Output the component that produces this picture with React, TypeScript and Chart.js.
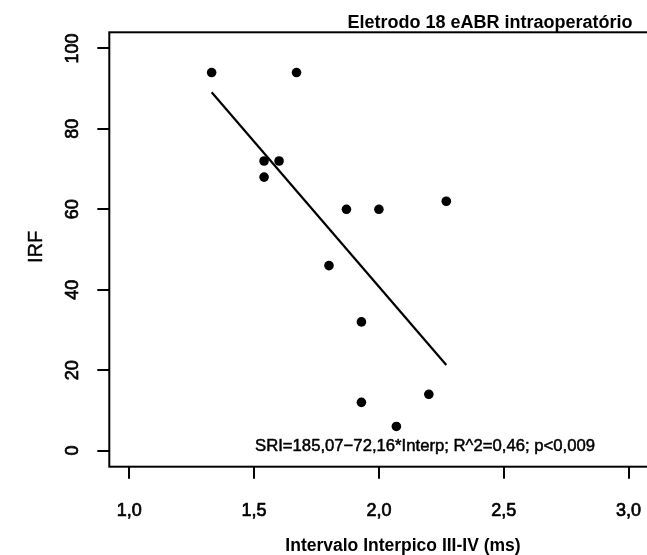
import React, { useEffect, useRef } from "react";
import { Chart, registerables } from "chart.js";

Chart.register(...registerables);

// Data
const interpico: number[] = [1.33, 1.67, 1.54, 1.6, 1.54, 1.87, 2.0, 2.27, 1.8, 1.93, 1.93, 2.2, 2.07];
const irf: number[] = [94, 94, 72, 72, 68, 60, 60, 62, 46, 32, 12, 14, 6];

// Regression line end points (as drawn)
const fitX: number[] = [1.33, 2.27];
const fitY: number[] = [89.1, 21.3];

// Axes
const xTicks: number[] = [1.0, 1.5, 2.0, 2.5, 3.0];
const xTickLabels: string[] = ["1,0", "1,5", "2,0", "2,5", "3,0"];
const yTicks: number[] = [0, 20, 40, 60, 80, 100];
const yTickLabels: string[] = ["0", "20", "40", "60", "80", "100"];

const titleText = "Eletrodo 18 eABR intraoperatório";
const xTitle = "Intervalo Interpico III-IV (ms)";
const yTitle = "IRF";
const noteText = "SRI=185,07\u221272,16*Interp; R^2=0,46; p<0,009";

const FONT = '"Liberation Sans", Arial, Helvetica, sans-serif';

export default function App() {
  const ref = useRef<HTMLCanvasElement | null>(null);

  useEffect(() => {
    if (!ref.current) return;
    const heavyText = (ctx: any, s: string, x: number, y: number, w: number) => {
      ctx.lineWidth = w;
      ctx.strokeText(s, x, y);
      ctx.fillText(s, x, y);
    };
    const textPlugin = {
      id: "rtext",
      afterDraw(chart: any) {
        const { ctx, chartArea, scales } = chart;
        const xs = scales.x;
        const ys = scales.y;
        ctx.save();
        // box
        ctx.strokeStyle = "#000";
        ctx.lineWidth = 2;
        ctx.strokeRect(chartArea.left, chartArea.top, chartArea.right - chartArea.left, chartArea.bottom - chartArea.top);
        ctx.fillStyle = "#000";
        ctx.lineJoin = "round";
        // y tick labels (rotated)
        ctx.font = `18px ${FONT}`;
        ctx.textAlign = "center";
        ctx.textBaseline = "middle";
        yTicks.forEach((v, i) => {
          const py = ys.getPixelForValue(v);
          ctx.save();
          ctx.translate(73, py);
          ctx.rotate(-Math.PI / 2);
          heavyText(ctx, yTickLabels[i], 0, 0, 0.7);
          ctx.restore();
        });
        // x tick labels
        xTicks.forEach((v, i) => {
          const px = xs.getPixelForValue(v);
          heavyText(ctx, xTickLabels[i], px, 511, 0.7);
        });
        // y title
        ctx.save();
        ctx.font = `20px ${FONT}`;
        ctx.translate(36, 247);
        ctx.rotate(-Math.PI / 2);
        heavyText(ctx, yTitle, 0, 0, 0.4);
        ctx.restore();
        // x title
        ctx.font = `bold 17.5px ${FONT}`;
        ctx.fillText(xTitle, 403, 546);
        // main title
        ctx.font = `bold 18px ${FONT}`;
        ctx.textBaseline = "alphabetic";
        ctx.fillText(titleText, 490, 28);
        // annotation
        ctx.font = `16.7px ${FONT}`;
        ctx.textBaseline = "middle";
        heavyText(ctx, noteText, 425, 446, 0.5);
        ctx.restore();
      },
    };

    const chart = new Chart(ref.current, {
      type: "scatter",
      data: {
        datasets: [
          {
            label: "IRF",
            data: interpico.map((x, i) => ({ x, y: irf[i] })),
            pointRadius: 4.8,
            pointHoverRadius: 4.8,
            backgroundColor: "#000",
            borderWidth: 0,
            showLine: false,
          },
          {
            label: "fit",
            data: fitX.map((x, i) => ({ x, y: fitY[i] })),
            showLine: true,
            pointRadius: 0,
            borderColor: "#000",
            borderWidth: 2.2,
            fill: false,
          },
        ],
      },
      options: {
        responsive: false,
        animation: false,
        events: [],
        layout: { padding: { top: 32.3, right: 11.5, left: 0, bottom: 0 } },
        plugins: { legend: { display: false }, tooltip: { enabled: false }, title: { display: false } },
        scales: {
          x: {
            type: "linear",
            min: 0.92,
            max: 3.08,
            afterBuildTicks: (scale: any) => {
              scale.ticks = xTicks.map((v) => ({ value: v }));
            },
            afterFit: (scale: any) => {
              scale.height = 88.3;
            },
            ticks: { display: false },
            border: { display: false },
            grid: {
              drawOnChartArea: false,
              drawTicks: true,
              tickLength: 12,
              color: "#000",
              lineWidth: 2,
              tickWidth: 2,
            },
          },
          y: {
            type: "linear",
            min: -4,
            max: 104,
            afterBuildTicks: (scale: any) => {
              scale.ticks = yTicks.map((v) => ({ value: v }));
            },
            afterFit: (scale: any) => {
              scale.width = 109.3;
            },
            ticks: { display: false },
            border: { display: false },
            grid: {
              drawOnChartArea: false,
              drawTicks: true,
              tickLength: 12,
              color: "#000",
              lineWidth: 2,
              tickWidth: 2,
            },
          },
        },
      },
      plugins: [textPlugin],
    });
    return () => chart.destroy();
  }, []);

  return (
    <div
      style={{
        position: "fixed",
        left: 0,
        top: 0,
        width: 647,
        height: 555,
        overflow: "hidden",
        background: "#fff",
      }}
    >
      <canvas ref={ref} width={660} height={555} style={{ width: 660, height: 555, display: "block" }} />
    </div>
  );
}
